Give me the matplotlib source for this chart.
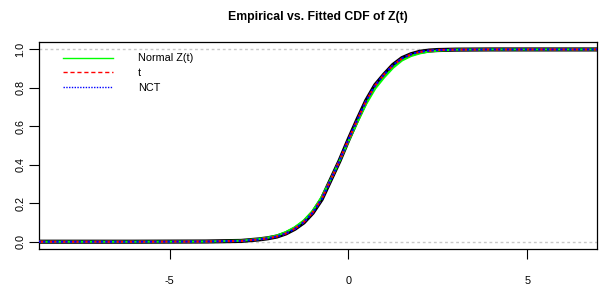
import matplotlib
matplotlib.use("Agg")
import matplotlib.pyplot as plt
from matplotlib.lines import Line2D

plt.rcParams['font.family'] = ['Liberation Sans', 'DejaVu Sans']

x_grid = [-8.66, -6.0, -4.0, -3.0, -2.5, -2.25, -2.0, -1.75, -1.5, -1.25, -1.0, -0.75, -0.5,
          -0.25, 0.0, 0.25, 0.5, 0.75, 1.0, 1.25, 1.5, 1.75, 2.0, 2.25, 2.5, 3.0, 4.0, 6.95]

# Empirical CDF of Z(t)
ecdf_vals = [0.0, 0.0, 0.001, 0.004, 0.012, 0.018, 0.027, 0.043, 0.067, 0.100, 0.150, 0.220, 0.320,
             0.420, 0.530, 0.635, 0.735, 0.815, 0.870, 0.920, 0.955, 0.975, 0.988, 0.994, 0.997, 0.999, 1.0, 1.0]
# Fitted normal CDF
normal_vals = [0.0, 0.0, 0.001, 0.005, 0.014, 0.021, 0.032, 0.050, 0.075, 0.110, 0.160, 0.232, 0.322,
               0.420, 0.522, 0.622, 0.718, 0.797, 0.855, 0.905, 0.943, 0.966, 0.980, 0.989, 0.994, 0.999, 1.0, 1.0]
# Fitted Student t CDF
t_vals = [0.0, 0.0, 0.001, 0.004, 0.012, 0.018, 0.027, 0.043, 0.068, 0.102, 0.152, 0.222, 0.320,
          0.421, 0.530, 0.634, 0.733, 0.813, 0.870, 0.918, 0.953, 0.974, 0.987, 0.993, 0.997, 0.999, 1.0, 1.0]
# Fitted non-central t CDF
nct_vals = [0.0, 0.0, 0.001, 0.004, 0.012, 0.018, 0.027, 0.043, 0.067, 0.101, 0.151, 0.221, 0.320,
            0.421, 0.531, 0.635, 0.734, 0.814, 0.870, 0.919, 0.954, 0.975, 0.988, 0.994, 0.997, 0.999, 1.0, 1.0]

legend_labels = ["Normal Z(t)", "t", "NCT"]
x_ticks = [-5, 0, 5]
y_ticks = [0.0, 0.2, 0.4, 0.6, 0.8, 1.0]

fig = plt.figure(figsize=(6.0, 2.86), dpi=100)
ax = fig.add_axes([0.0645, 0.128, 0.9305, 0.726])

ax.axhline(0, color="#c8c8c8", lw=1, ls=(0, (2, 2)), zorder=1)
ax.axhline(1, color="#c8c8c8", lw=1, ls=(0, (2, 2)), zorder=1)

ax.plot(x_grid, ecdf_vals, color="black", lw=3, zorder=2, solid_joinstyle="round")
ax.plot(x_grid, normal_vals, color="#00ff00", lw=1.6, zorder=3)
ax.plot(x_grid, t_vals, color="#ff0000", lw=1.6, ls=(0, (3, 2)), zorder=4)
ax.plot(x_grid, nct_vals, color="#0000ff", lw=1.6, ls=(0, (1, 1)), zorder=5)

ax.set_xlim(-8.66, 6.95)
ax.set_ylim(-0.04, 1.04)
ax.set_xticks(x_ticks)
ax.set_xticklabels([str(v) for v in x_ticks])
ax.set_yticks(y_ticks)
ax.set_yticklabels([f"{v:.1f}" for v in y_ticks], rotation=90, va="center")
ax.tick_params(axis="x", length=7, width=0.8, pad=12, labelsize=7.8)
ax.tick_params(axis="y", length=7, width=0.8, pad=2.5, labelsize=7.8)
for s in ax.spines.values():
    s.set_linewidth(0.9)

ax.set_title("Empirical vs. Fitted CDF of Z(t)", fontsize=8.8, fontweight="bold", pad=16)

handles = [Line2D([], [], color="#00ff00", lw=1),
           Line2D([], [], color="#ff0000", lw=1, ls=(0, (3, 2))),
           Line2D([], [], color="#0000ff", lw=1, ls=(0, (1, 1)))]
ax.legend(handles, legend_labels, loc="upper left", bbox_to_anchor=(0.036, 0.965),
          frameon=False, fontsize=7.8, handlelength=4.6, handletextpad=2.3,
          labelspacing=0.45, borderaxespad=0)

fig.savefig("out.png", dpi=100)
